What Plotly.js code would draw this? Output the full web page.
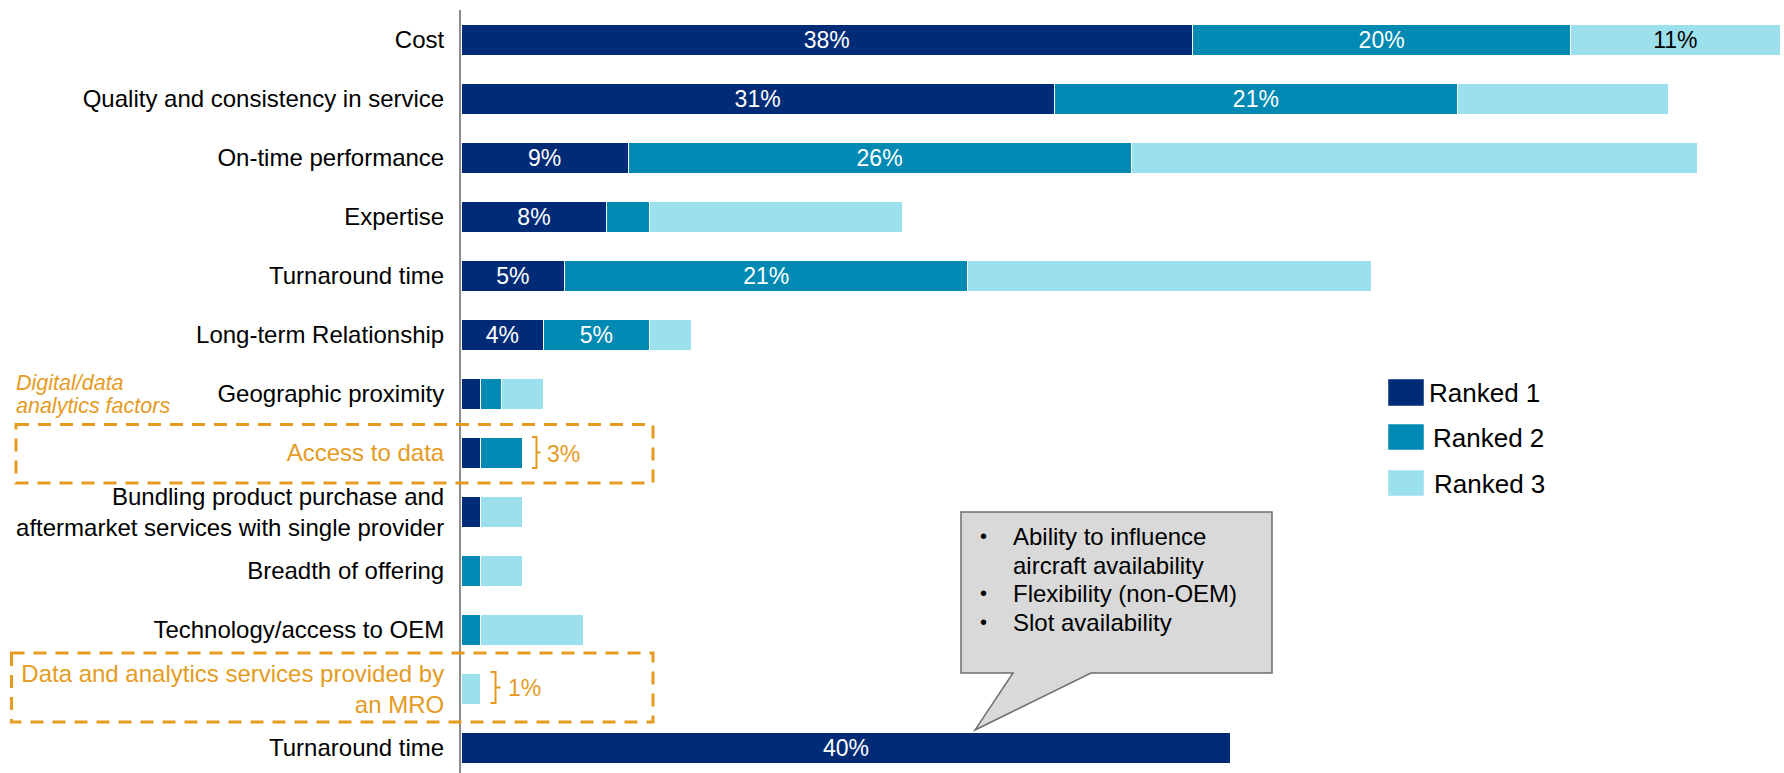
<!DOCTYPE html>
<html>
<head>
<meta charset="utf-8">
<script src="https://cdn.plot.ly/plotly-3.0.1.min.js"></script>
<style>html,body{margin:0;padding:0;background:#fff;}#chart{width:1784px;height:773px;}</style>
</head>
<body>
<div id="chart"></div>
<script>
// ---- data ----
const categories = [
  "Cost",
  "Quality and consistency in service",
  "On-time performance",
  "Expertise",
  "Turnaround time",
  "Long-term Relationship",
  "Geographic proximity",
  "Access to data",
  "Bundling product purchase and<br>aftermarket services with single provider",
  "Breadth of offering",
  "Technology/access to OEM",
  "Data and analytics services provided by<br>an MRO",
  "Turnaround time"
];
const highlighted = [false,false,false,false,false,false,false,true,false,false,false,true,false];
const seriesNames = ["Ranked 1", "Ranked 2", "Ranked 3"];
const ranked1 = [38.1, 30.9, 8.7, 7.6, 5.4, 4.3, 1.0, 1.0, 1.0, null, null, null, 40.1];
const ranked2 = [19.7, 21.0, 26.2, 2.2, 21.0, 5.5, 1.1, 2.2, null, 1.0, 1.0, null, null];
const ranked3 = [10.9, 11.0, 29.5, 13.2, 21.0, 2.2, 2.2, null, 2.2, 2.2, 5.4, 1.0, null];
const labels1 = ["38%","31%","9%","8%","5%","4%","","","","","","","40%"];
const labels2 = ["20%","21%","26%","","21%","5%","","","","","","",""];
const labels3 = ["11%","","","","","","","","","","","",""];
const noteLines = ["Digital/data", "analytics factors"];
const groupTotals = {7: "3%", 11: "1%"};
const calloutLines = ["Ability to influence", "aircraft availability", "Flexibility (non-OEM)", "Slot availability"];
const calloutBullets = [true, false, true, true];

// ---- style ----
const colors = ["#002B77", "#008AB3", "#9DE0ED"];
const textColors = ["#ffffff", "#ffffff", "#000000"];
const orange = "#E59B1F";
const FONT = "Liberation Sans, Arial, sans-serif";

const ML = 461, MT = 10, MR = 0, MB = 0, FW = 1784, FH = 773;
const PW = FW - ML - MR, PH = FH - MT - MB;
const px = x => (x - ML) / PW;
const py = y => 1 - (y - MT) / PH;

const idx = categories.map((_, i) => i);
const ticktext = categories.map((c, i) => highlighted[i] ? '<span style="color:' + orange + '">' + c + '</span>' : c);

const seriesVals = [ranked1, ranked2, ranked3];
const seriesLabels = [labels1, labels2, labels3];
const traces = seriesVals.map((vals, s) => ({
  type: "bar",
  orientation: "h",
  name: seriesNames[s],
  x: vals,
  y: idx,
  text: seriesLabels[s],
  textposition: "inside",
  insidetextanchor: "middle",
  textangle: 0,
  constraintext: "none",
  textfont: {family: FONT, size: 23, color: textColors[s]},
  marker: {color: colors[s], line: {color: "#ffffff", width: 1}},
  hoverinfo: "skip",
  showlegend: false
}));

const shapes = [];
const annotations = [];

// dashed boxes around highlighted rows
const boxes = [[16, 424.5, 653, 483], [11.5, 653, 653, 722]];
boxes.forEach(b => shapes.push({
  type: "rect", xref: "paper", yref: "paper",
  x0: px(b[0]), x1: px(b[2]), y0: py(b[1]), y1: py(b[3]),
  line: {color: orange, width: 3, dash: "13px,9px"}, fillcolor: "rgba(0,0,0,0)", layer: "above"
}));

// brackets + totals
function bracket(x0, xm, x1, ytop, ybot) {
  const ym = (ytop + ybot) / 2;
  return "M" + px(x0) + "," + py(ytop) + " L" + px(xm) + "," + py(ytop) +
         " L" + px(xm) + "," + py(ybot) + " L" + px(x0) + "," + py(ybot) +
         " M" + px(xm) + "," + py(ym) + " L" + px(x1) + "," + py(ym);
}
shapes.push({type: "path", xref: "paper", yref: "paper", path: bracket(532, 536.5, 540.5, 437, 468), line: {color: orange, width: 2}});
shapes.push({type: "path", xref: "paper", yref: "paper", path: bracket(490.5, 495.5, 500.5, 672, 703), line: {color: orange, width: 2}});
annotations.push({xref: "paper", yref: "paper", x: px(545), y: py(453.5), xanchor: "left", yanchor: "middle", showarrow: false,
  text: groupTotals[7], font: {family: FONT, size: 23, color: orange}});
annotations.push({xref: "paper", yref: "paper", x: px(506), y: py(688), xanchor: "left", yanchor: "middle", showarrow: false,
  text: groupTotals[11], font: {family: FONT, size: 23, color: orange}});

// italic group note (two lines)
[383, 406].forEach((y, i) => annotations.push({
  xref: "paper", yref: "paper", x: px(14), y: py(y), xanchor: "left", yanchor: "middle", showarrow: false,
  text: "<i>" + noteLines[i] + "</i>", font: {family: FONT, size: 21.5, color: orange}
}));

// callout
const cp = [[961,512],[1272,512],[1272,673],[1091,673],[975,730],[1013,673],[961,673]];
shapes.push({type: "path", xref: "paper", yref: "paper",
  path: "M" + cp.map(p => px(p[0]) + "," + py(p[1])).join(" L") + " Z",
  fillcolor: "#D9D9D9", line: {color: "#6E6E6E", width: 1.5}, layer: "above"});
const lineY = [536, 565, 593, 622];
calloutLines.forEach((t, i) => {
  annotations.push({xref: "paper", yref: "paper", x: px(1011), y: py(lineY[i]), xanchor: "left", yanchor: "middle", showarrow: false,
    text: t, font: {family: FONT, size: 24, color: "#000"}});
  if (calloutBullets[i]) annotations.push({xref: "paper", yref: "paper", x: px(983), y: py(lineY[i]), xanchor: "center", yanchor: "middle", showarrow: false,
    text: "•", font: {family: FONT, size: 20, color: "#000"}});
});

// custom legend
const legY = [[379, 406], [424, 450], [470, 496]];
const legTx = [1427, 1431, 1432];
seriesNames.forEach((n, s) => {
  shapes.push({type: "rect", xref: "paper", yref: "paper", x0: px(1388), x1: px(1424), y0: py(legY[s][0]), y1: py(legY[s][1]),
    fillcolor: colors[s], line: {color: "#ffffff", width: 0.5}, layer: "above"});
  annotations.push({xref: "paper", yref: "paper", x: px(legTx[s]), y: py((legY[s][0] + legY[s][1]) / 2 + 0.5), xanchor: "left", yanchor: "middle",
    showarrow: false, text: n, font: {family: FONT, size: 26, color: "#000"}});
});

const yTop = -(39.8 - MT) / 59.02;
const yBottom = (FH - MB - 39.8) / 59.02;

const layout = {
  width: FW, height: FH,
  margin: {l: ML, r: MR, t: MT, b: MB, pad: 0},
  paper_bgcolor: "#ffffff", plot_bgcolor: "#ffffff",
  barmode: "stack",
  bargap: 0.475,
  font: {family: FONT, size: 24, color: "#000"},
  showlegend: false,
  xaxis: {range: [0, PW / 19.2], visible: false, showgrid: false, zeroline: false, fixedrange: true},
  yaxis: {
    range: [yBottom, yTop], autorange: false,
    tickmode: "array", tickvals: idx, ticktext: ticktext,
    showline: true, linecolor: "#8C8C8C", linewidth: 2,
    ticks: "", showgrid: false, zeroline: false, ticklabelstandoff: 10,
    tickfont: {family: FONT, size: 24, color: "#000"}, fixedrange: true
  },
  shapes: shapes,
  annotations: annotations
};

Plotly.newPlot("chart", traces, layout, {displayModeBar: false, staticPlot: true});
</script>
</body>
</html>
